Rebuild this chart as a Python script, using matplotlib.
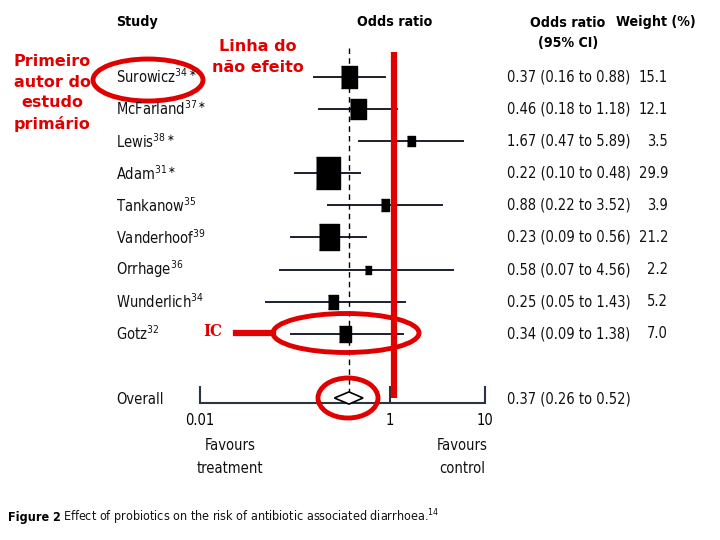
import numpy as np
import matplotlib
matplotlib.use('Agg')
import matplotlib.pyplot as plt
from matplotlib.patches import Ellipse, Polygon

plt.rcParams['font.family'] = ['DejaVu Sans']
plt.rcParams['font.stretch'] = 'condensed'
plt.rcParams['mathtext.fontset'] = 'dejavusans'

# ---- data ----
studies = ['Surowicz', 'McFarland', 'Lewis', 'Adam', 'Tankanow',
           'Vanderhoof', 'Orrhage', 'Wunderlich', 'Gotz']
refs = ['34*', '37*', '38*', '31*', '35', '39', '36', '34', '32']
odds = [0.37, 0.46, 1.67, 0.22, 0.88, 0.23, 0.58, 0.25, 0.34]
ci_lo = [0.16, 0.18, 0.47, 0.10, 0.22, 0.09, 0.07, 0.05, 0.09]
ci_hi = [0.88, 1.18, 5.89, 0.48, 3.52, 0.56, 4.56, 1.43, 1.38]
weight = [15.1, 12.1, 3.5, 29.9, 3.9, 21.2, 2.2, 5.2, 7.0]
overall = [0.37, 0.26, 0.52]
xticks = [0.01, 1, 10]
xticklabels = ['0.01', '1', '10']

red = '#e00000'
ink = '#111111'
fs = 10.5
hfs = 10.2

fig = plt.figure(figsize=(7.2, 5.4), dpi=100)

# overlay in pixel units for texts and annotations
ov = fig.add_axes([0, 0, 1, 1])
ov.set_xlim(0, 720)
ov.set_ylim(540, 0)
ov.axis('off')
ov.set_zorder(3)
ov.patch.set_alpha(0)

# forest axes: rows in units, log x
ax = fig.add_axes([200/720, (540-403)/540, 285/720, (403-48)/540])
ax.set_xscale('log')
ax.set_xlim(0.01, 10)
ax.set_ylim(10.156, -0.903)
ax.patch.set_alpha(0)
for s in ['top', 'left', 'right']:
    ax.spines[s].set_visible(False)
ax.spines['bottom'].set_color('#2b3442')
ax.spines['bottom'].set_linewidth(1.5)
ax.set_yticks([])
ax.set_xticks(xticks)
ax.set_xticklabels(xticklabels, fontsize=10.5)
ax.minorticks_off()
ax.tick_params(axis='x', direction='in', length=12, width=1.5, pad=7,
               color='#2b3442')

box = [(-0.74, -1), (0.74, -1), (0.74, 1), (-0.74, 1)]
rows = np.arange(len(studies))
for i in rows:
    ax.plot([ci_lo[i], ci_hi[i]], [i, i], color='#1c1f2e', lw=1.4, zorder=2)
    ax.plot(odds[i], i, marker=box, ms=4.2*np.sqrt(weight[i]), color='black',
            zorder=3)

# overall diamond
oy = len(studies) + 1
dh = 0.19
ax.add_patch(Polygon([[overall[1], oy], [overall[0], oy - dh],
                      [overall[2], oy], [overall[0], oy + dh]],
                     closed=True, fc='white', ec='black', lw=1.2,
                     clip_on=False, zorder=3))
ax.vlines(overall[0], -0.9, oy - dh, colors='black', linestyles=(0, (4, 3)),
          lw=1, zorder=2)

# red "no effect" line (as drawn on the figure)
ax.vlines(1.11, -0.78, oy, colors=red, lw=4.5, zorder=4, clip_on=False)

# ---- headers ----
ov.text(116, 22, 'Study', fontsize=hfs, fontweight='bold', va='center')
ov.text(395, 22, 'Odds ratio', fontsize=hfs, fontweight='bold',
        ha='center', va='center')
ov.text(568, 33, 'Odds ratio\n(95% CI)', fontsize=hfs, fontweight='bold',
        ha='center', va='center', linespacing=1.6)
ov.text(656, 22, 'Weight (%)', fontsize=hfs, fontweight='bold',
        ha='center', va='center')

# rows of text
for i in rows:
    y = 77 + 32.1*i
    ov.text(116, y, r'%s$^{%s}$' % (studies[i], refs[i].replace('*', r'\ast')),
            fontsize=fs, va='center', color=ink)
    ov.text(507, y, '%.2f (%.2f to %.2f)' % (odds[i], ci_lo[i], ci_hi[i]),
            fontsize=fs, va='center', color=ink)
    ov.text(668, y, '%.1f' % weight[i], fontsize=fs, va='center',
            ha='right', color=ink)

ov.text(116, 399, 'Overall', fontsize=fs, va='center', color=ink)
ov.text(507, 399, '%.2f (%.2f to %.2f)' % tuple(overall), fontsize=fs,
        va='center', color=ink)

ov.text(230, 457, 'Favours\ntreatment', fontsize=10.5, ha='center',
        va='center', linespacing=1.6, color=ink)
ov.text(462, 457, 'Favours\ncontrol', fontsize=10.5, ha='center',
        va='center', linespacing=1.6, color=ink)

ov.text(8, 517, 'Figure 2', fontsize=9, fontweight='bold', va='center')
ov.text(63, 517, r'Effect of probiotics on the risk of antibiotic associated diarrhoea.$^{14}$',
        fontsize=9, va='center', color=ink)

# ---- red annotations ----
ov.text(52, 93, 'Primeiro\nautor do\nestudo\nprimário', color=red,
        fontsize=11.5, fontweight='bold', ha='center', va='center',
        linespacing=1.45, fontstretch='normal')
ov.text(258, 57, 'Linha do\nnão efeito', color=red, fontsize=11.5,
        fontweight='bold', ha='center', va='center', linespacing=1.5,
        fontstretch='normal')
ov.text(213, 332, 'IC', color=red, fontsize=12, fontweight='bold',
        family='DejaVu Serif', ha='center', va='center')
ov.plot([236, 273], [333, 333], color=red, lw=4.5)
ov.add_patch(Ellipse((148, 80), 110, 42, fc='none', ec=red, lw=3.5))
ov.add_patch(Ellipse((346, 333), 146, 39, fc='none', ec=red, lw=3.5))
ov.add_patch(Ellipse((348, 398), 60, 40, fc='none', ec=red, lw=3.5))

fig.savefig('out.png', dpi=100)
